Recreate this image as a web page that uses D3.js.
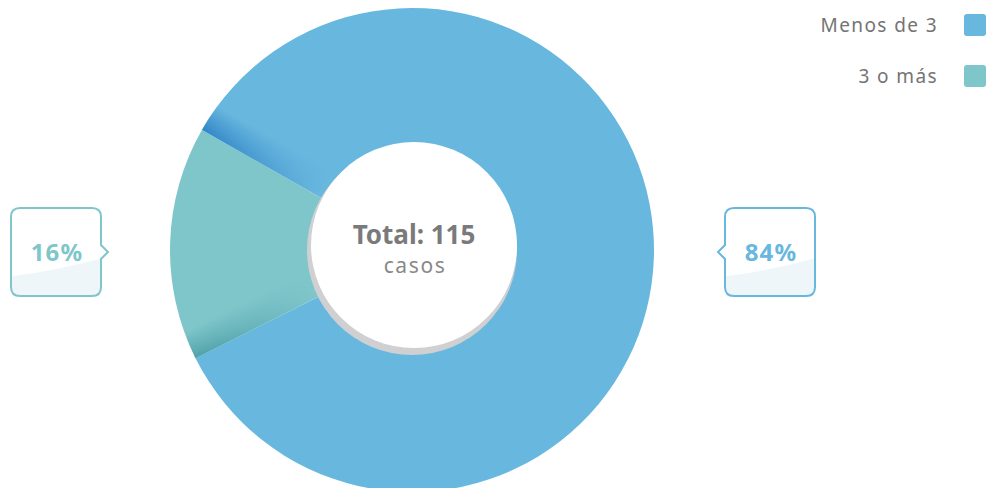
<!DOCTYPE html>
<html>
<head>
<meta charset="utf-8">
<script src="https://d3js.org/d3.v7.min.js"></script>
<style>
  body { margin: 0; background: #fff; }
  svg { display: block; font-family: "Noto Sans", "Open Sans", sans-serif; }
</style>
</head>
<body>
<div id="chart"></div>
<script>
// data
var categories = ["Menos de 3", "3 o más"];
var values = [97, 18];
var colors = ["#68b7df", "#7fc6cb"];
var shades = ["#2b80c4", "#4a9ea4"];
var total = 115;

var width = 988, height = 488;
var cx = 412, cy = 250, outerR = 242, innerR = 100;

var svg = d3.select('#chart').append('svg')
  .attr('width', width)
  .attr('height', height);

var defs = svg.append('defs');

var g = svg.append('g').attr('transform', 'translate(' + cx + ',' + cy + ')');

var start = -60.2 * Math.PI / 180;
var pie = d3.pie().sort(null).startAngle(start).endAngle(start + 2 * Math.PI);
var arc = d3.arc().innerRadius(innerR).outerRadius(outerR);
var arcs = pie(values);

g.selectAll('path.slice')
  .data(arcs)
  .enter().append('path')
    .attr('class', 'slice')
    .attr('d', arc)
    .attr('fill', function(d, i) { return colors[i]; });

// darker band along each slice's starting edge
arcs.forEach(function(d, i) {
  var a = d.startAngle;
  var ex = Math.sin(a) * 200, ey = -Math.cos(a) * 200;
  var px = Math.cos(a), py = Math.sin(a);
  var grad = defs.append('linearGradient')
    .attr('id', 'shade' + i)
    .attr('gradientUnits', 'userSpaceOnUse')
    .attr('x1', ex).attr('y1', ey)
    .attr('x2', ex + px * 28).attr('y2', ey + py * 28);
  grad.append('stop').attr('offset', 0).attr('stop-color', shades[i]).attr('stop-opacity', 0.9);
  grad.append('stop').attr('offset', 1).attr('stop-color', shades[i]).attr('stop-opacity', 0);

  var rg = defs.append('radialGradient')
    .attr('id', 'fade' + i)
    .attr('gradientUnits', 'userSpaceOnUse')
    .attr('cx', 0).attr('cy', 0).attr('r', outerR);
  rg.append('stop').attr('offset', 0.45).attr('stop-color', '#000');
  rg.append('stop').attr('offset', 1).attr('stop-color', '#fff');
  defs.append('mask').attr('id', 'm' + i)
    .append('rect').attr('x', -outerR).attr('y', -outerR)
    .attr('width', outerR * 2).attr('height', outerR * 2)
    .attr('fill', 'url(#fade' + i + ')');

  var band = d3.arc().innerRadius(innerR).outerRadius(outerR)
    .startAngle(d.startAngle).endAngle(Math.min(d.endAngle, d.startAngle + 0.35));
  g.append('path')
    .attr('d', band())
    .attr('fill', 'url(#shade' + i + ')')
    .attr('mask', 'url(#m' + i + ')');
});

// centre disc with grey shadow
g.append('circle').attr('cx', 0).attr('cy', 0).attr('r', 105).attr('fill', '#d0d0d2');
g.append('circle').attr('cx', 2).attr('cy', -5).attr('r', 103).attr('fill', '#fff');

g.append('text')
  .attr('x', 2).attr('y', -6)
  .attr('text-anchor', 'middle')
  .attr('font-size', 26).attr('font-weight', 'bold')
  .attr('fill', '#7a7a7a')
  .text('Total: ' + total);
g.append('text')
  .attr('x', 3).attr('y', 23)
  .attr('text-anchor', 'middle')
  .attr('font-size', 21)
  .attr('letter-spacing', 1.6)
  .attr('fill', '#888')
  .text('casos');

// percentage callouts
var pct = values.map(function(v) { return Math.round(v / total * 100) + '%'; });
var boxW = 90, boxH = 88, rr = 9, notch = 7, nh = 7;

function boxPath(side) {
  var x0 = -boxW / 2, x1 = boxW / 2, y0 = -boxH / 2, y1 = boxH / 2;
  var p = d3.path();
  p.moveTo(x0 + rr, y0);
  p.lineTo(x1 - rr, y0);
  p.quadraticCurveTo(x1, y0, x1, y0 + rr);
  if (side === 'right') { p.lineTo(x1, -nh); p.lineTo(x1 + notch, 0); p.lineTo(x1, nh); }
  p.lineTo(x1, y1 - rr);
  p.quadraticCurveTo(x1, y1, x1 - rr, y1);
  p.lineTo(x0 + rr, y1);
  p.quadraticCurveTo(x0, y1, x0, y1 - rr);
  if (side === 'left') { p.lineTo(x0, nh); p.lineTo(x0 - notch, 0); p.lineTo(x0, -nh); }
  p.lineTo(x0, y0 + rr);
  p.quadraticCurveTo(x0, y0, x0 + rr, y0);
  p.closePath();
  return p.toString();
}

var callouts = [
  { x: cx + 358, side: 'left', i: 0 },
  { x: cx - 356, side: 'right', i: 1 }
];

callouts.forEach(function(c) {
  var bg = svg.append('g').attr('transform', 'translate(' + c.x + ',' + (cy + 2) + ')');
  var cid = 'clip' + c.i;
  defs.append('clipPath').attr('id', cid).append('path').attr('d', boxPath(c.side));
  bg.append('path').attr('d', boxPath(c.side)).attr('fill', '#fff');
  bg.append('path')
    .attr('clip-path', 'url(#' + cid + ')')
    .attr('d', 'M-60,26 Q0,20 60,2 L60,60 L-60,60 Z')
    .attr('fill', '#eef6f9');
  bg.append('path').attr('d', boxPath(c.side))
    .attr('fill', 'none')
    .attr('stroke', colors[c.i]).attr('stroke-width', 2);
  bg.append('text')
    .attr('x', 1).attr('y', 9)
    .attr('text-anchor', 'middle')
    .attr('font-size', 24).attr('font-weight', 'bold')
    .attr('letter-spacing', 1.2)
    .attr('fill', colors[c.i])
    .text(pct[c.i]);
});

// legend
var legend = svg.append('g').attr('transform', 'translate(0,0)');
var lg = legend.selectAll('g').data(categories).enter().append('g')
  .attr('transform', function(d, i) { return 'translate(0,' + (25 + i * 51) + ')'; });
lg.append('rect')
  .attr('x', 964).attr('y', -11)
  .attr('width', 22).attr('height', 22).attr('rx', 3)
  .attr('fill', function(d, i) { return colors[i]; });
lg.append('text')
  .attr('x', 938).attr('y', 7)
  .attr('text-anchor', 'end')
  .attr('font-size', 19)
  .attr('letter-spacing', 1.4)
  .attr('fill', '#747474')
  .text(function(d) { return d; });
</script>
</body>
</html>
